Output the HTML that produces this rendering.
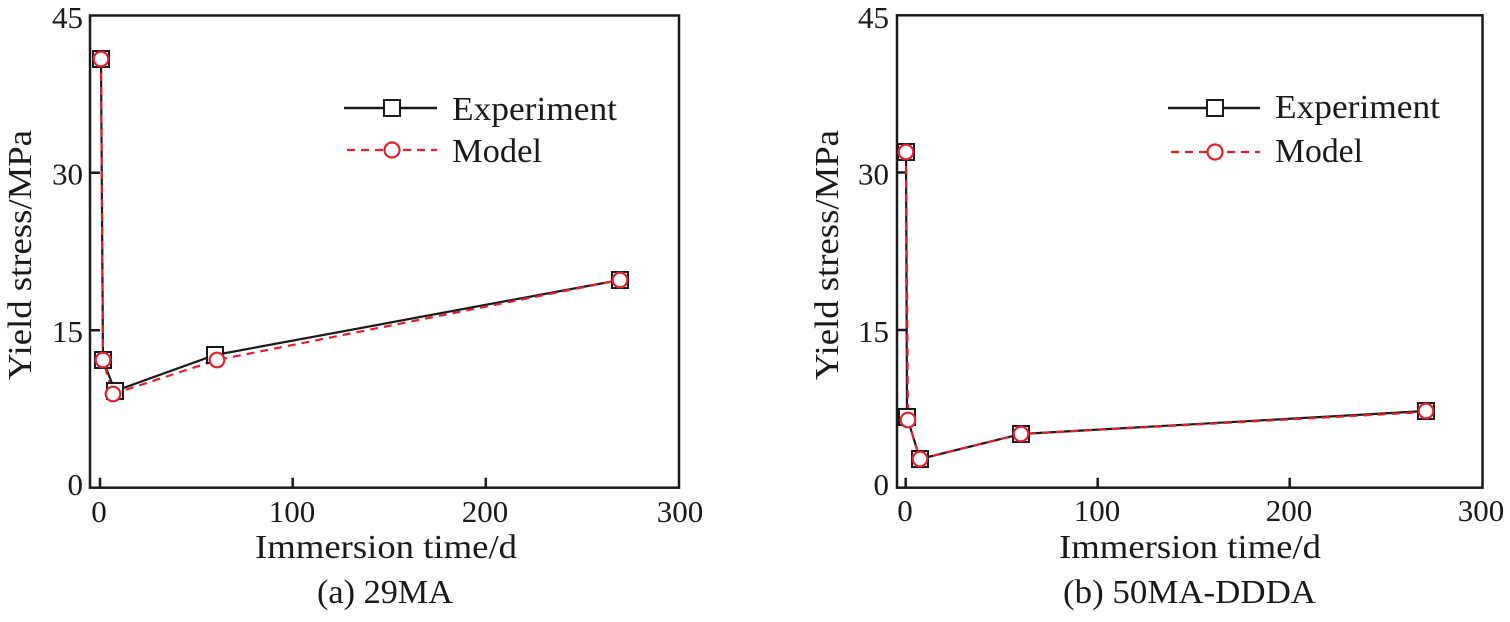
<!DOCTYPE html>
<html><head><meta charset="utf-8"><style>
html,body{margin:0;padding:0;background:#fff;}
svg{display:block;font-family:"Liberation Serif","DejaVu Serif",serif;}
svg text{font-family:"Liberation Serif","DejaVu Serif",serif;fill:#1a1a1a;}
</style></head><body>
<svg width="1510" height="622" viewBox="0 0 1510 622" xmlns="http://www.w3.org/2000/svg" font-family="Liberation Serif, DejaVu Serif, serif">
<g fill="none" stroke="#1a1a1a" stroke-width="2.5">
  <rect x="90" y="15.5" width="589" height="472.2"/>
  <path d="M100 487.7V477.7 M292.7 487.7V477.7 M485.8 487.7V477.7 M90 172.8H100 M90 330.2H100"/>
  <rect x="897" y="15.3" width="585.5" height="472.4"/>
  <path d="M905.7 487.7V477.7 M1097.7 487.7V477.7 M1289.7 487.7V477.7 M897 172.5H907 M897 330H907"/>
</g>
<g font-size="31" text-anchor="middle" font-family="Liberation Serif, DejaVu Serif, serif">
  <text x="99" y="522">0</text>
  <text x="292" y="522">100</text>
  <text x="485" y="522">200</text>
  <text x="680" y="522">300</text>
  <text x="905" y="521">0</text>
  <text x="1097" y="521">100</text>
  <text x="1289" y="521">200</text>
  <text x="1481" y="521">300</text>
</g>
<g font-size="31" text-anchor="end" font-family="Liberation Serif, DejaVu Serif, serif">
  <text x="83" y="28">45</text>
  <text x="83" y="184.5">30</text>
  <text x="83" y="342">15</text>
  <text x="83" y="495">0</text>
  <text x="889" y="28">45</text>
  <text x="889" y="184.5">30</text>
  <text x="889" y="342">15</text>
  <text x="889" y="495">0</text>
</g>
<g font-size="34" font-family="Liberation Serif, DejaVu Serif, serif">
  <text x="255" y="558" textLength="262" lengthAdjust="spacingAndGlyphs">Immersion time/d</text>
  <text x="1059" y="558" textLength="262" lengthAdjust="spacingAndGlyphs">Immersion time/d</text>
  <text x="317" y="603" textLength="136" lengthAdjust="spacingAndGlyphs">(a) 29MA</text>
  <text x="1063" y="603" textLength="253" lengthAdjust="spacingAndGlyphs">(b) 50MA-DDDA</text>
  <text transform="translate(31,380) rotate(-90)" textLength="250" lengthAdjust="spacingAndGlyphs">Yield stress/MPa</text>
  <text transform="translate(838,380) rotate(-90)" textLength="250" lengthAdjust="spacingAndGlyphs">Yield stress/MPa</text>
</g>
<g font-size="34" font-family="Liberation Serif, DejaVu Serif, serif">
  <text x="452" y="120" textLength="165" lengthAdjust="spacingAndGlyphs">Experiment</text>
  <text x="452" y="162" textLength="90" lengthAdjust="spacingAndGlyphs">Model</text>
  <text x="1275" y="118" textLength="165" lengthAdjust="spacingAndGlyphs">Experiment</text>
  <text x="1275" y="162" textLength="88" lengthAdjust="spacingAndGlyphs">Model</text>
</g>
<g stroke="#1a1a1a" stroke-width="2.5" fill="none">
  <line x1="344" y1="108" x2="437" y2="108"/>
  <line x1="1168" y1="108" x2="1260" y2="108"/>
</g>
<g stroke="#e3202e" stroke-width="2.2" fill="none" stroke-dasharray="8,6">
  <line x1="347" y1="150" x2="437" y2="150"/>
  <line x1="1171" y1="152" x2="1260" y2="152"/>
</g>
<g stroke="#1a1a1a" stroke-width="2" fill="#fff">
  <rect x="384" y="100" width="16" height="16"/>
  <rect x="1207" y="100" width="16" height="16"/>
</g>
<g stroke="#e3202e" stroke-width="2.2" fill="#fff">
  <circle cx="392" cy="150" r="7.5"/>
  <circle cx="1215" cy="152" r="7.5"/>
</g>
<polyline points="101,59 103,360 115,391 215,355 620,280" fill="none" stroke="#1a1a1a" stroke-width="2.2"/>
<polyline points="101,59 103,360 113,394 217,360 620,280" fill="none" stroke="#e3202e" stroke-width="2.2" stroke-dasharray="8,6"/>
<g stroke="#1a1a1a" stroke-width="2" fill="#fff">
  <rect x="93" y="51" width="16" height="16"/>
  <rect x="95" y="352" width="16" height="16"/>
  <rect x="107" y="383" width="16" height="16"/>
  <rect x="207" y="347" width="16" height="16"/>
  <rect x="612" y="272" width="16" height="16"/>
</g>
<g stroke="#e3202e" stroke-width="2.2" fill="#fff">
  <circle cx="101" cy="59" r="7.3"/>
  <circle cx="103" cy="360" r="7.3"/>
  <circle cx="113" cy="394" r="7.3"/>
  <circle cx="217" cy="360" r="7.3"/>
  <circle cx="620" cy="280" r="7.3"/>
</g>
<polyline points="906,152 907,417 920,459 1021,434 1426,411" fill="none" stroke="#1a1a1a" stroke-width="2.2"/>
<polyline points="906,152 908,420 920,459 1021,434 1426,412" fill="none" stroke="#e3202e" stroke-width="2.2" stroke-dasharray="8,6"/>
<g stroke="#1a1a1a" stroke-width="2" fill="#fff">
  <rect x="898" y="144" width="16" height="16"/>
  <rect x="899" y="409" width="16" height="16"/>
  <rect x="912" y="451" width="16" height="16"/>
  <rect x="1013" y="426" width="16" height="16"/>
  <rect x="1418" y="403" width="16" height="16"/>
</g>
<g stroke="#e3202e" stroke-width="2.2" fill="#fff">
  <circle cx="906" cy="152" r="7.3"/>
  <circle cx="908" cy="420" r="7.3"/>
  <circle cx="920" cy="459" r="7.3"/>
  <circle cx="1021" cy="434" r="7.3"/>
  <circle cx="1426" cy="411" r="7.3"/>
</g>
</svg>
</body></html>
